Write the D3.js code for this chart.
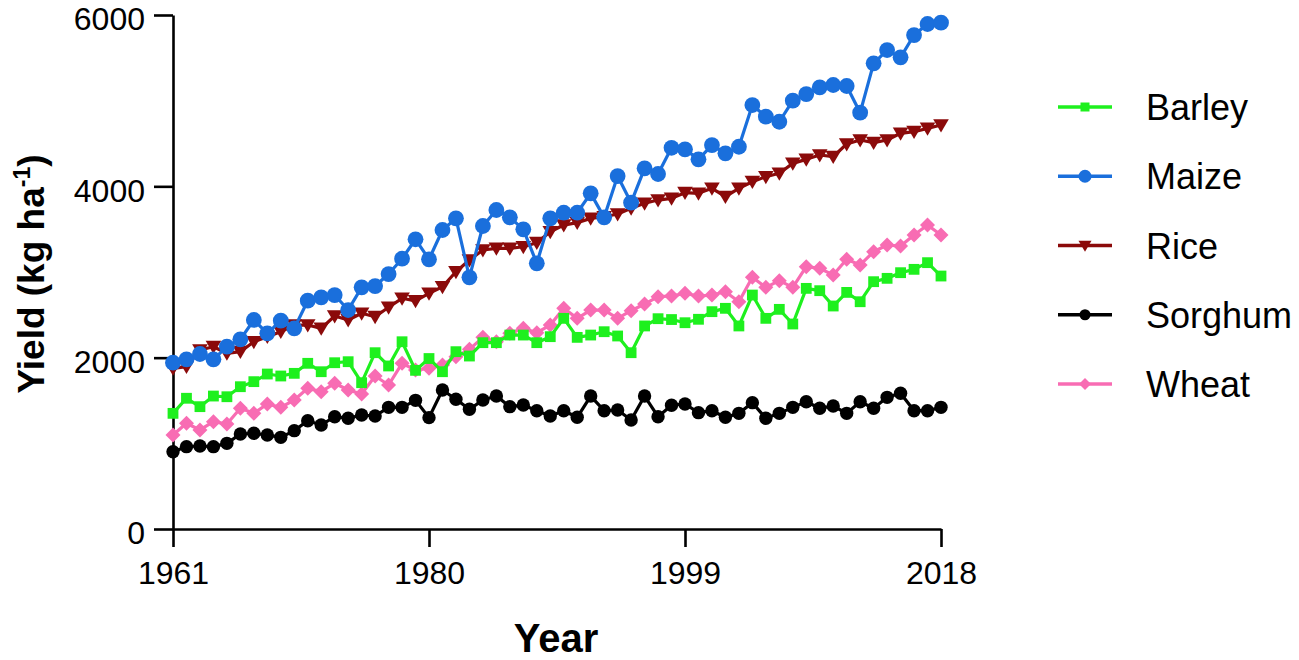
<!DOCTYPE html>
<html>
<head>
<meta charset="utf-8">
<script src="https://cdn.jsdelivr.net/npm/d3@7"></script>
<style>
  html, body { margin: 0; padding: 0; background: #fff; }
  svg { display: block; }
  text { font-family: Arial, "Liberation Sans", sans-serif; fill: #000; }
</style>
</head>
<body>
<svg id="chart" width="1299" height="660"></svg>
<script>
const years = d3.range(1961, 2019);
const xTickValues = [1961, 1980, 1999, 2018];
const yTickValues = [0, 2000, 4000, 6000];
const seriesNames = ["Barley", "Maize", "Rice", "Sorghum", "Wheat"];

const barley = [1350,1526,1428,1552,1544,1661,1720,1809,1786,1817,1934,1836,1941,1953,1708,2058,1903,2186,1852,1990,
  1836,2070,2019,2175,2175,2264,2264,2175,2245,2459,2237,2264,2303,2253,2058,2370,2455,2445,2408,2448,
  2537,2576,2370,2731,2459,2564,2393,2809,2782,2603,2762,2653,2887,2926,2992,3031,3109,2953];
const maize = [1941,1981,2043,1981,2128,2214,2440,2284,2432,2342,2665,2704,2731,2556,2821,2836,2976,3155,3382,3148,
  3490,3626,2938,3537,3724,3638,3498,3101,3626,3692,3692,3918,3638,4120,3809,4210,4144,4450,4432,4315,
  4482,4385,4462,4949,4813,4754,5000,5077,5156,5183,5171,4860,5436,5591,5506,5766,5895,5910];
const rice = [1876,1895,2089,2128,2051,2070,2186,2245,2303,2381,2381,2342,2486,2440,2518,2478,2588,2693,2663,2750,
  2828,3003,3140,3257,3276,3276,3295,3342,3470,3548,3576,3626,3645,3677,3743,3802,3840,3860,3926,3918,
  3977,3879,3977,4054,4112,4152,4268,4315,4366,4346,4494,4541,4510,4541,4619,4638,4677,4716];
const sorghum = [902,961,969,961,1000,1109,1117,1097,1070,1148,1264,1214,1311,1292,1331,1319,1420,1420,1502,1300,
  1623,1514,1397,1506,1552,1428,1447,1381,1319,1381,1304,1552,1381,1389,1272,1552,1311,1445,1459,1358,
  1381,1304,1350,1475,1292,1350,1420,1486,1409,1436,1350,1486,1409,1537,1584,1381,1381,1420];
const wheat = [1097,1234,1156,1253,1226,1409,1350,1459,1420,1506,1642,1603,1701,1623,1576,1786,1681,1934,1856,1876,
  1915,2011,2097,2237,2186,2284,2342,2292,2381,2576,2459,2556,2556,2459,2548,2626,2712,2720,2751,2720,
  2731,2770,2653,2938,2821,2899,2821,3062,3043,2965,3148,3082,3237,3315,3303,3432,3548,3432];

const colors = {Barley: "#1ef01e", Maize: "#1a6fdc", Rice: "#8b0a0a", Sorghum: "#000000", Wheat: "#f86cb3"};

// custom marker shapes (r = half-width in px)
const shapes = {
  Barley: (r) => `M${-r},${-r}H${r}V${r}H${-r}Z`,
  Maize: (r) => d3.arc()({innerRadius: 0, outerRadius: r, startAngle: 0, endAngle: 2 * Math.PI}),
  Rice: (r) => `M${-r},${-r * 0.75}H${r}L0,${r * 0.95}Z`,
  Sorghum: (r) => d3.arc()({innerRadius: 0, outerRadius: r, startAngle: 0, endAngle: 2 * Math.PI}),
  Wheat: (r) => `M0,${-r}L${r},0L0,${r}L${-r},0Z`
};
const markerR = {Barley: 5.4, Maize: 7.9, Rice: 7.8, Sorghum: 6.7, Wheat: 7.5};
const legendR = {Barley: 4.5, Maize: 6.5, Rice: 6.5, Sorghum: 5.5, Wheat: 6};

const data = {Barley: barley, Maize: maize, Rice: rice, Sorghum: sorghum, Wheat: wheat};

const svg = d3.select("#chart");
const x = d3.scaleLinear().domain([1961, 2018]).range([173, 941]);
const y = d3.scaleLinear().domain([0, 6000]).range([529, 15]);

// axes
const yAxis = d3.axisLeft(y).tickValues(yTickValues).tickSize(19).tickSizeOuter(0).tickPadding(9).tickFormat(d3.format("d"));
const gy = svg.append("g").attr("transform", "translate(173,0)").call(yAxis);
const xAxis = d3.axisBottom(x).tickValues(xTickValues).tickSize(18).tickSizeOuter(0).tickPadding(14).tickFormat(d3.format("d"));
const gx = svg.append("g").attr("transform", "translate(0,529)").call(xAxis);
[gx, gy].forEach(g => {
  g.selectAll("path.domain").attr("stroke", "#000").attr("stroke-width", 2.6);
  g.selectAll(".tick line").attr("stroke", "#000").attr("stroke-width", 2.6);
  g.selectAll(".tick text").style("font-size", "32px").style("font-family", "Arial, 'Liberation Sans', sans-serif").attr("fill", "#000");
});
gy.selectAll(".tick text").attr("dy", "0.46em");

// series (drawn in reverse order so Barley/Maize sit on top)
const line = d3.line().x((d, i) => x(years[i])).y(d => y(d));
seriesNames.slice().reverse().forEach(name => {
  const vals = data[name];
  const g = svg.append("g");
  g.append("path").datum(vals).attr("d", line)
    .attr("fill", "none").attr("stroke", colors[name]).attr("stroke-width", 3.2).attr("stroke-linejoin", "round");
  g.selectAll("path.m").data(vals).enter().append("path").attr("class", "m")
    .attr("transform", (d, i) => `translate(${x(years[i])},${y(d)})`)
    .attr("d", shapes[name](markerR[name]))
    .attr("fill", colors[name]);
});

// axis titles
svg.append("text").attr("x", 556).attr("y", 652).attr("text-anchor", "middle")
  .style("font-size", "40px").style("font-weight", "bold").text("Year");
const yt = svg.append("text").attr("transform", "translate(44,274) rotate(-90)").attr("text-anchor", "middle")
  .style("font-size", "37px").style("font-weight", "bold");
yt.append("tspan").text("Yield (kg ha");
yt.append("tspan").attr("dy", -14).style("font-size", "23px").text("-1");
yt.append("tspan").attr("dy", 14).text(")");

// legend
const legendY = d3.scalePoint().domain(seriesNames).range([107, 384]);
const lg = svg.append("g");
seriesNames.forEach(name => {
  const yy = legendY(name);
  lg.append("line").attr("x1", 1058).attr("x2", 1112).attr("y1", yy).attr("y2", yy)
    .attr("stroke", colors[name]).attr("stroke-width", 3.4);
  lg.append("path").attr("transform", `translate(1085,${yy})`).attr("d", shapes[name](legendR[name])).attr("fill", colors[name]);
  lg.append("text").attr("x", 1146).attr("y", yy + 13).style("font-size", "36px").text(name);
});
</script>
</body>
</html>
